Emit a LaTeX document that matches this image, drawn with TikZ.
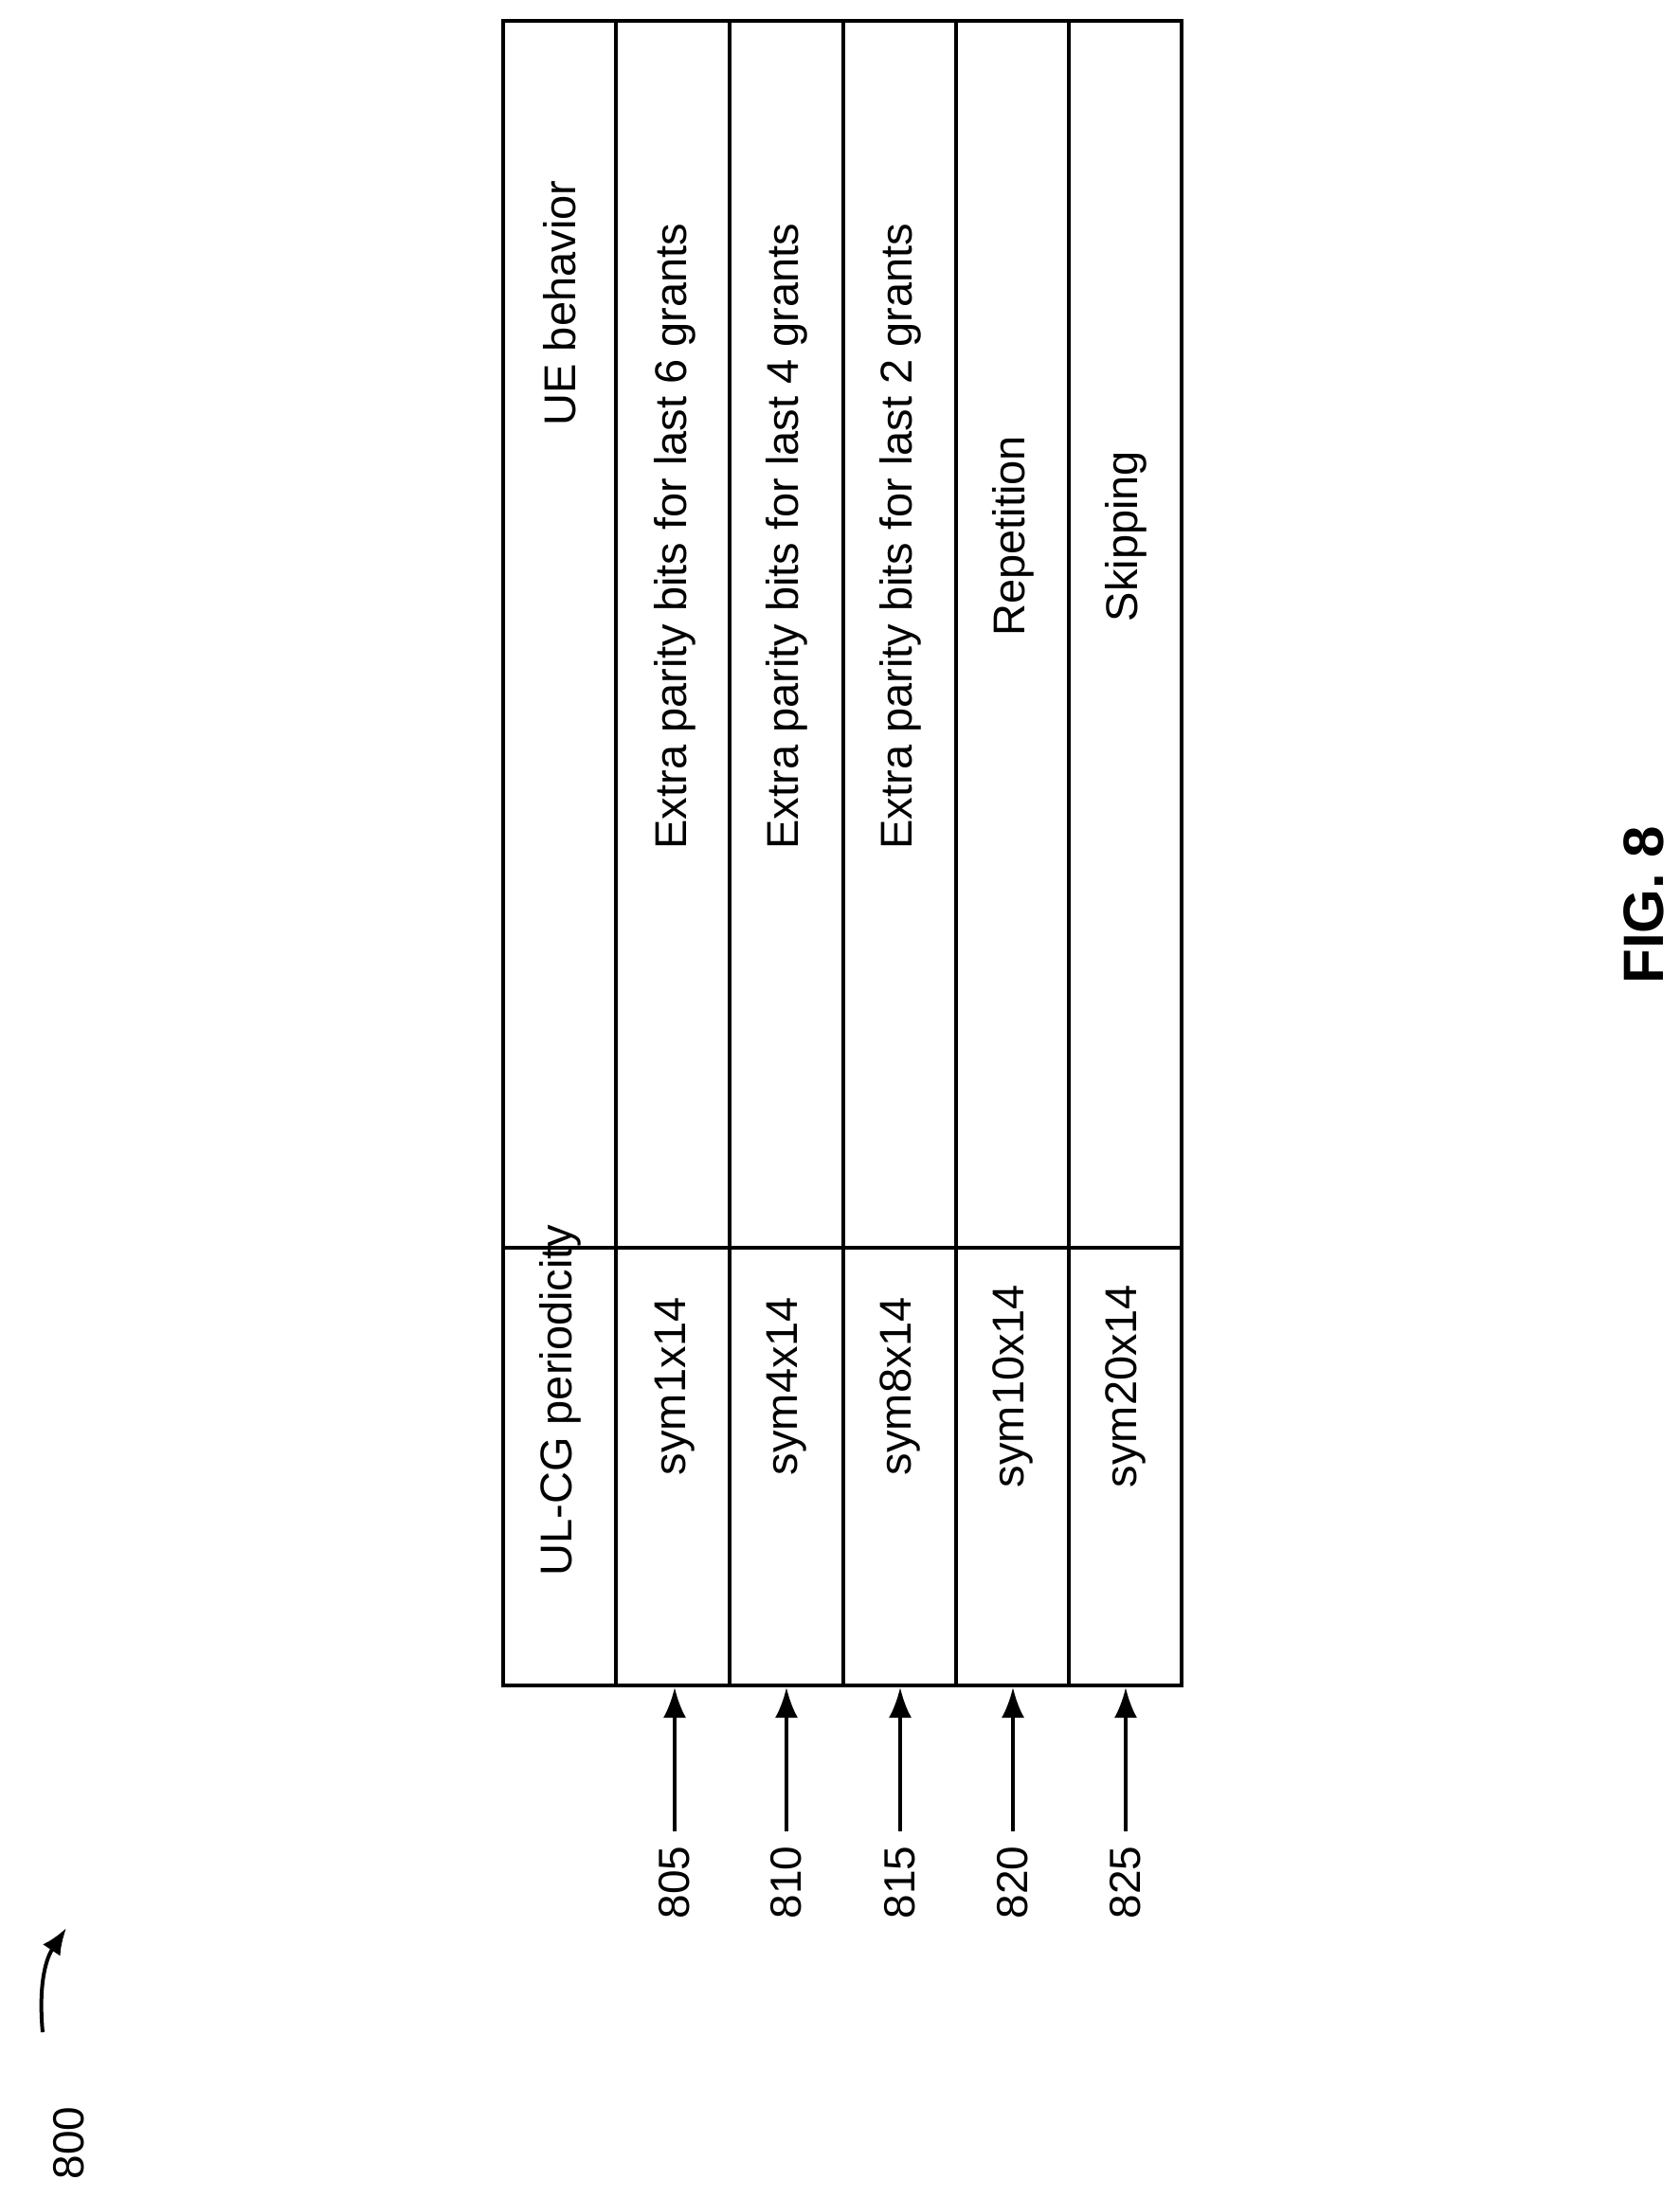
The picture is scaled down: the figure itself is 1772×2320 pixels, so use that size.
\documentclass[tikz,border=0pt]{standalone}
\usepackage{fontspec}
\setmainfont{Liberation Sans}
\usetikzlibrary{arrows.meta}
\begin{document}
\begin{tikzpicture}
[x=1pt,y=-1pt,
 cell/.style={rotate=90,font=\fontsize{47}{55}\selectfont},
 ref/.style={rotate=90,font=\fontsize{46}{54}\selectfont},
 refarrow/.style={line width=4pt,shorten <=12pt,-{Latex[length=32pt,width=24pt]}}]
\useasboundingbox (0,0) rectangle (1772,2320);

% table
\draw[line width=4pt] (531,22) rectangle (1247,1779);
\foreach \x in {650,770,890,1009,1128}
	\draw[line width=3.5pt] (\x,22) -- (\x,1779);
\draw[line width=3.5pt] (531,1317) -- (1247,1317);

\node (h1) at (591,1478) [cell] {UL-CG periodicity};
\node (h2) at (591,320) [cell] {UE behavior};

\foreach \xc/\per/\beh/\lab in {712/sym1x14/Extra parity bits for last 6 grants/805,
	830/sym4x14/Extra parity bits for last 4 grants/810,
	950/sym8x14/Extra parity bits for last 2 grants/815,
	1069/sym10x14/Repetition/820,
	1188/sym20x14/Skipping/825} {
	\node (p\lab) at (\xc,1463) [cell] {\per};
	\node (b\lab) at (\xc,566) [cell] {\beh};
	\node (l\lab) at (\xc,1987) [ref] {\lab};
	\coordinate (t\lab) at (\xc,1781);
	\draw[refarrow] (l\lab.east) -- (t\lab);
}

% figure number
\node (n800) at (73,2262) [ref] {800};
\coordinate (c800) at (70,2035);
\draw[line width=4pt,-{Latex[length=28pt,width=22pt]}] (45,2145) .. controls (40,2090) and (50,2065) .. (c800);

\node (fig) at (1735,955) [rotate=90,font=\bfseries\fontsize{60}{68}\selectfont] {FIG. 8};
\end{tikzpicture}
\end{document}
